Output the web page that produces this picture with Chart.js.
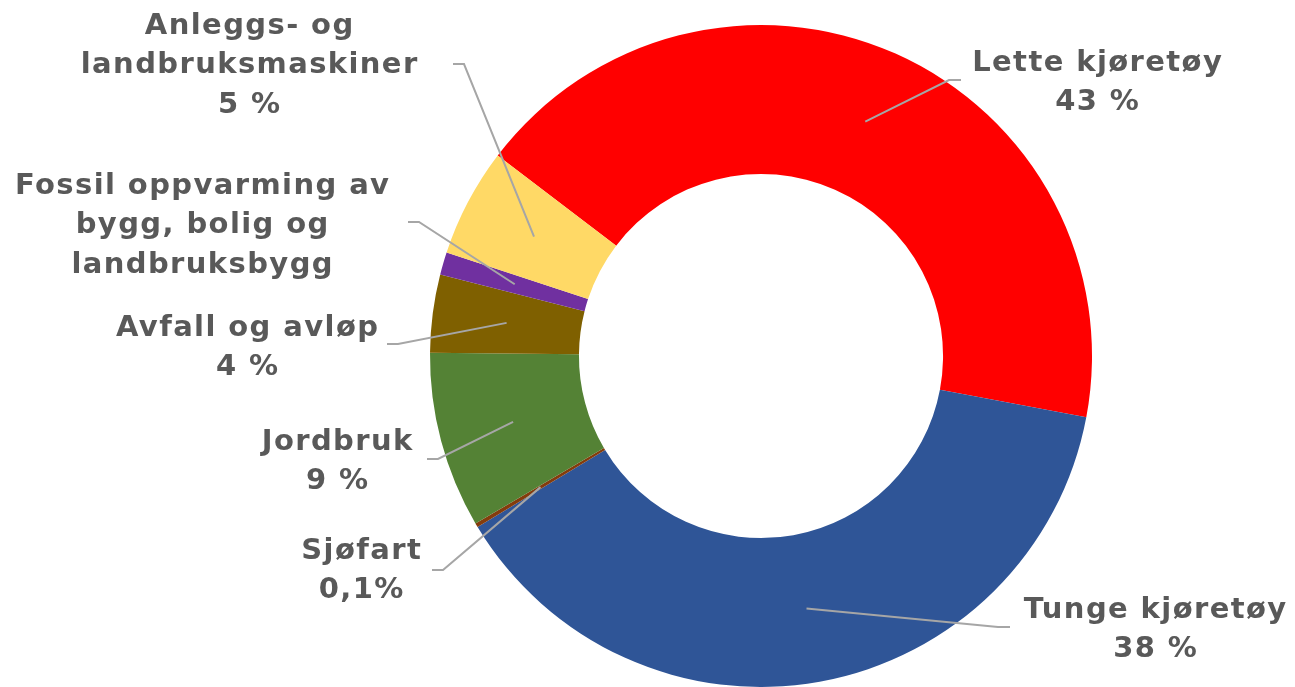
<!DOCTYPE html>
<html>
<head>
<meta charset="utf-8">
<script src="https://cdn.jsdelivr.net/npm/chart.js@4"></script>
<style>
  html, body { margin: 0; padding: 0; background: #fff; }
  #wrap { width: 1295px; height: 687px; }
</style>
</head>
<body>
<div id="wrap"><canvas id="doughnut-chart"></canvas></div>
<script>
"use strict";

const categories = [
  ['Lette kjøretøy'],
  ['Tunge kjøretøy'],
  ['Sjøfart'],
  ['Jordbruk'],
  ['Avfall og avløp'],
  ['Fossil oppvarming av', 'bygg, bolig og', 'landbruksbygg'],
  ['Anleggs- og', 'landbruksmaskiner']
];
const shares = [42.6, 38.4, 0.2, 8.6, 3.8, 1.1, 5.3];
const shareLabels = ['43 %', '38 %', '0,1%', '9 %', '4 %', '', '5 %'];
const colors = ['#FF0000', '#2F5597', '#843C0C', '#548235', '#7F6000', '#7030A0', '#FFD966'];

// label text centre, elbow and line end per slice
const labelLayout = [
  { x: 1097, y: 63, elbow: [949, 80], end: [961, 80] },
  { x: 1155, y: 610, elbow: [998, 627], end: [1010, 627] },
  { x: 361, y: 551, elbow: [443, 570], end: [432, 570] },
  { x: 337, y: 442, elbow: [438, 459], end: [427, 459] },
  { x: 247, y: 328, elbow: [398, 344], end: [387, 344] },
  { x: 202, y: 186, elbow: [419, 222], end: [408, 222] },
  { x: 249, y: 26, elbow: [464, 64], end: [453, 64] }
];

const leaderLabels = {
  id: 'leaderLabels',
  afterDatasetsDraw(chart) {
    const ctx = chart.ctx;
    const arcs = chart.getDatasetMeta(0).data;
    ctx.save();
    arcs.forEach((arc, i) => {
      const p = arc.tooltipPosition();
      const L = labelLayout[i];
      ctx.strokeStyle = '#A6A6A6';
      ctx.lineWidth = 2;
      ctx.beginPath();
      ctx.moveTo(p.x, p.y);
      ctx.lineTo(L.elbow[0], L.elbow[1]);
      ctx.lineTo(L.end[0], L.end[1]);
      ctx.stroke();

      const lines = categories[i].slice();
      if (shareLabels[i]) lines.push(shareLabels[i]);
      ctx.fillStyle = '#595959';
      ctx.font = 'bold 29px "DejaVu Sans"';
      ctx.letterSpacing = '1.4px';
      ctx.textAlign = 'center';
      ctx.textBaseline = 'middle';
      lines.forEach((t, k) => ctx.fillText(t, L.x + 0.7, L.y + k * 39.5));
    });
    ctx.restore();
  }
};

new Chart(document.getElementById('doughnut-chart'), {
  type: 'doughnut',
  data: {
    labels: categories.map(c => c.join(' ')),
    datasets: [{
      data: shares,
      backgroundColor: colors,
      borderWidth: 0,
      hoverOffset: 0
    }]
  },
  options: {
    responsive: true,
    maintainAspectRatio: false,
    animation: false,
    cutout: '55%',
    rotation: 307.3,
    layout: { padding: { left: 430, right: 203, top: 25, bottom: 0 } },
    plugins: {
      legend: { display: false },
      tooltip: { enabled: false }
    }
  },
  plugins: [leaderLabels]
});
</script>
</body>
</html>
